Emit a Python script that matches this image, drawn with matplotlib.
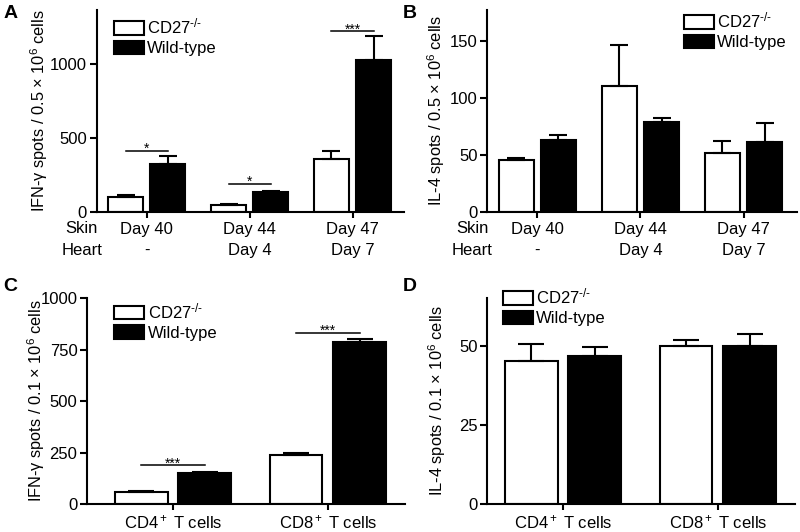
import numpy as np
import matplotlib
matplotlib.use('Agg')
import matplotlib.pyplot as plt

plt.rcParams['font.family'] = ['Liberation Sans', 'DejaVu Sans']
plt.rcParams['mathtext.fontset'] = 'custom'
plt.rcParams['mathtext.rm'] = 'Liberation Sans'
plt.rcParams['mathtext.it'] = 'Liberation Sans:italic'
plt.rcParams['mathtext.bf'] = 'Liberation Sans:bold'

# panel A / B: days after skin graft / heart graft
skin_days = ['Day 40', 'Day 44', 'Day 47']
heart_days = ['-', 'Day 4', 'Day 7']

# A: IFN-gamma spots
ifng_ko = [105, 45, 362]
ifng_ko_err = [10, 9, 52]
ifng_wt = [324, 137, 1027]
ifng_wt_err = [57, 4, 165]
ifng_sig = ['*', '*', '***']
ifng_sig_y = [415, 190, 1225]

# B: IL-4 spots
il4_ko = [45.6, 110.5, 52]
il4_ko_err = [2, 36, 10.5]
il4_wt = [63, 79, 61.5]
il4_wt_err = [4.5, 3.5, 16.5]

# C / D: T cell subsets
cell_types = ['CD4$^+$ T cells', 'CD8$^+$ T cells']
ifng_t_ko = [60, 238]
ifng_t_ko_err = [3, 8]
ifng_t_wt = [150, 787]
ifng_t_wt_err = [4, 15]
ifng_t_sig = ['***', '***']
ifng_t_sig_y = [188, 831]

il4_t_ko = [45.3, 49.8]
il4_t_ko_err = [5.3, 1.9]
il4_t_wt = [46.8, 50.0]
il4_t_wt_err = [2.8, 3.8]

KO_LABEL = r'CD27$^{\text{-/-}}$'
WT_LABEL = 'Wild-type'

W = 0.34
OFF = 0.205
LW = 1.5

fig = plt.figure(figsize=(8, 5.32), dpi=100)


def panel(rect, ko, ko_err, wt, wt_err, ylim, yticks, xlim, ylabel, cap):
    ax = fig.add_axes(rect)
    x = np.arange(len(ko))
    b1 = ax.bar(x - OFF, ko, W, color='white', edgecolor='black', linewidth=LW, label=KO_LABEL)
    b2 = ax.bar(x + OFF, wt, W, color='black', edgecolor='black', linewidth=LW, label=WT_LABEL)
    zeros = np.zeros(len(ko))
    ax.errorbar(x - OFF, ko, yerr=[zeros, ko_err], fmt='none', ecolor='black',
                elinewidth=LW, capsize=cap, capthick=LW)
    ax.errorbar(x + OFF, wt, yerr=[zeros, wt_err], fmt='none', ecolor='black',
                elinewidth=LW, capsize=cap, capthick=LW)
    for s in ['top', 'right']:
        ax.spines[s].set_visible(False)
    for s in ['left', 'bottom']:
        ax.spines[s].set_linewidth(LW)
    ax.set_xlim(*xlim)
    ax.set_ylim(*ylim)
    ax.set_yticks(yticks)
    ax.set_xticks(x)
    ax.tick_params(axis='y', direction='out', length=5, width=LW, labelsize=12, pad=2)
    ax.tick_params(axis='x', direction='out', length=4, width=LW, labelsize=12, pad=3)
    ax.set_ylabel(ylabel, fontsize=11.8)
    return ax, b1, b2


def add_sig(ax, xs, ys, marks):
    for xc, y, m in zip(xs, ys, marks):
        ax.plot([xc - OFF, xc + OFF], [y, y], color='black', lw=1.1)
        ax.annotate(m, (xc, y), xytext=(0, -1.5), textcoords='offset points',
                    ha='center', va='baseline', fontsize=10)


def add_legend(ax, b1, b2, anchor):
    ax.legend([b1, b2], [KO_LABEL, WT_LABEL], loc='upper left', bbox_to_anchor=anchor,
              frameon=False, fontsize=12, handlelength=1.8, handleheight=0.85, handletextpad=0.2,
              labelspacing=0.25, borderpad=0, borderaxespad=0)


# ---- A ----
axA, b1, b2 = panel([0.121, 0.6015, 0.384, 0.380], ifng_ko, ifng_ko_err, ifng_wt, ifng_wt_err,
                    (0, 1370), [0, 500, 1000], (-0.485, 2.5),
                    'IFN-γ spots / 0.5 × 10$^6$ cells', 6.5)
axA.set_xticklabels([f'{s}\n{h}' for s, h in zip(skin_days, heart_days)], linespacing=1.55)
add_sig(axA, np.arange(3), ifng_sig_y, ifng_sig)
axA.yaxis.set_label_coords(-0.153, 0.5)
axA.text(-0.63, -0.045, 'Skin\nHeart', transform=axA.get_xaxis_transform(), ha='center', va='top',
         fontsize=12, linespacing=1.55)
add_legend(axA, b1, b2, (0.055, 0.965))

# ---- B ----
axB, b1, b2 = panel([0.609, 0.6015, 0.3875, 0.380], il4_ko, il4_ko_err, il4_wt, il4_wt_err,
                    (0, 177), [0, 50, 100, 150], (-0.485, 2.52),
                    'IL-4 spots / 0.5 × 10$^6$ cells', 6.5)
axB.set_xticklabels([f'{s}\n{h}' for s, h in zip(skin_days, heart_days)], linespacing=1.55)
axB.yaxis.set_label_coords(-0.129, 0.5)
axB.text(-0.63, -0.045, 'Skin\nHeart', transform=axB.get_xaxis_transform(), ha='center', va='top',
         fontsize=12, linespacing=1.55)
add_legend(axB, b1, b2, (0.635, 0.995))

# ---- C ----
axC, b1, b2 = panel([0.109, 0.0526, 0.3975, 0.387], ifng_t_ko, ifng_t_ko_err, ifng_t_wt, ifng_t_wt_err,
                    (0, 1000), [0, 250, 500, 750, 1000], (-0.555, 1.5),
                    'IFN-γ spots / 0.1 × 10$^6$ cells', 9.5)
axC.set_xticklabels(cell_types)
add_sig(axC, np.arange(2), ifng_t_sig_y, ifng_t_sig)
axC.yaxis.set_label_coords(-0.126, 0.5)
add_legend(axC, b1, b2, (0.085, 0.985))

# ---- D ----
axD, b1, b2 = panel([0.609, 0.0526, 0.385, 0.387], il4_t_ko, il4_t_ko_err, il4_t_wt, il4_t_wt_err,
                    (0, 65), [0, 25, 50], (-0.49, 1.5),
                    'IL-4 spots / 0.1 × 10$^6$ cells', 9.5)
axD.set_xticklabels(cell_types)
axD.yaxis.set_label_coords(-0.127, 0.5)
add_legend(axD, b1, b2, (0.05, 1.055))

for lbl, (fx, fy) in zip('ABCD', [(0.004, 0.99), (0.504, 0.99), (0.004, 0.478), (0.504, 0.478)]):
    fig.text(fx, fy, lbl, fontsize=14, fontweight='bold', va='top', ha='left')

fig.savefig('out.png', dpi=100)
